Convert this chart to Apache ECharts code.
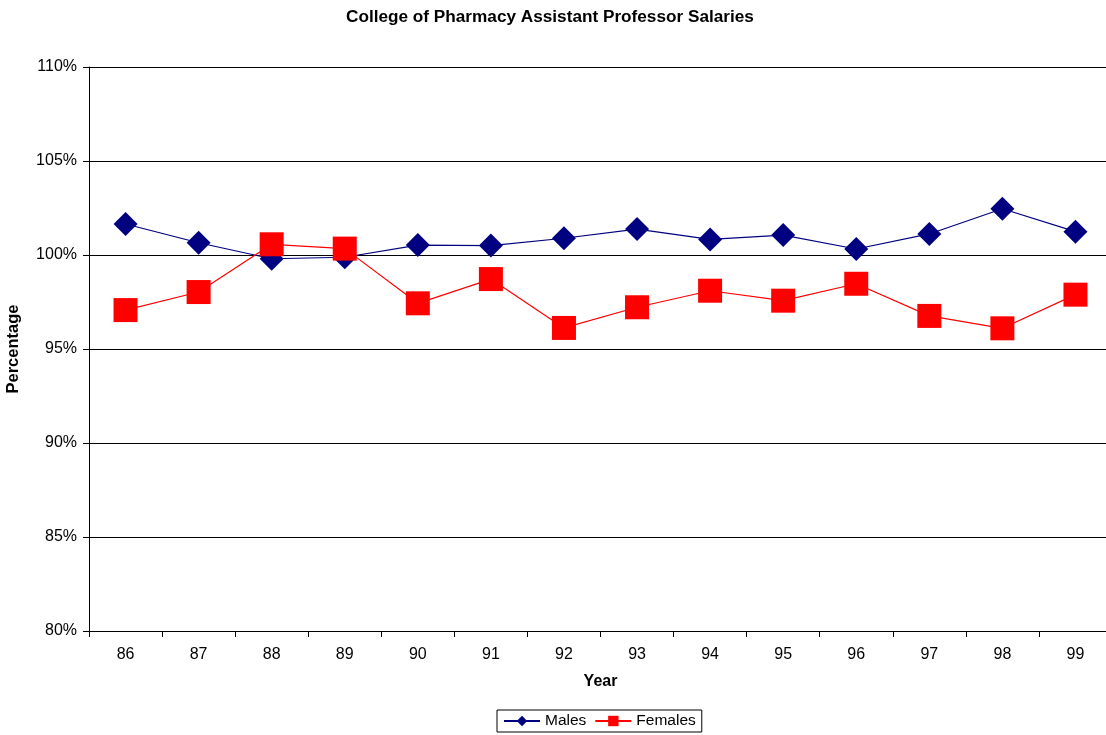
<!DOCTYPE html>
<html>
<head>
<meta charset="utf-8">
<script src="https://cdn.jsdelivr.net/npm/echarts@6/dist/echarts.min.js"></script>
<style>
html,body{margin:0;padding:0;background:#fff;}
#main{width:1106px;height:735px;}
</style>
</head>
<body>
<div id="main"></div>
<script>
var years = ['86','87','88','89','90','91','92','93','94','95','96','97','98','99'];
var males = [101.65,100.65,99.8,99.88,100.53,100.5,100.89,101.38,100.83,101.06,100.32,101.12,102.46,101.24];
var females = [97.07,98.03,100.57,100.34,97.43,98.72,96.12,97.22,98.1,97.57,98.47,96.76,96.1,97.89];
var yTicks = {min:80, max:110, interval:5};

var FONT = '"Liberation Sans", Arial, sans-serif';
var chart = echarts.init(document.getElementById('main'), null, {renderer:'canvas'});
chart.setOption({
  animation:false,
  backgroundColor:'#fff',
  textStyle:{fontFamily:FONT},
  title:{
    text:'College of Pharmacy Assistant Professor Salaries',
    left:341, top:4,
    textStyle:{fontFamily:FONT, fontSize:17.2, fontWeight:'bold', color:'#000'}
  },
  legend:{
    bottom:3, left:497,
    data:['Males','Females'],
    borderColor:'#000', borderWidth:1, borderRadius:0,
    padding:[3,6,3,6],
    itemGap:8, itemWidth:36, itemHeight:13,
    textStyle:{fontFamily:FONT, fontSize:15.5, color:'#000'}
  },
  grid:{left:89, top:67, width:1023, height:564, containLabel:false, outerBoundsMode:'none'},
  xAxis:{
    type:'category', data:years, boundaryGap:true,
    name:'Year', nameLocation:'middle', nameGap:43,
    nameTextStyle:{fontFamily:FONT, fontSize:16, fontWeight:'bold', color:'#000'},
    axisLine:{lineStyle:{color:'#000', width:1}},
    axisTick:{show:true, alignWithLabel:false, length:6, lineStyle:{color:'#000'}},
    axisLabel:{fontFamily:FONT, fontSize:16, color:'#000', margin:16},
    splitLine:{show:false}
  },
  yAxis:{
    type:'value', min:yTicks.min, max:yTicks.max, interval:yTicks.interval,
    name:'Percentage', nameLocation:'middle', nameGap:67, nameRotate:90,
    nameTextStyle:{fontFamily:FONT, fontSize:16.5, fontWeight:'bold', color:'#000'},
    axisLine:{show:true, lineStyle:{color:'#000', width:1}},
    axisTick:{show:true, length:6, lineStyle:{color:'#000'}},
    axisLabel:{fontFamily:FONT, fontSize:16, color:'#000', margin:12, padding:[3,0,0,0], formatter:function(v){return v+'%';}},
    splitLine:{show:true, lineStyle:{color:'#000', width:1}}
  },
  series:[
    {
      name:'Males', type:'line', data:males,
      symbol:'diamond', symbolSize:24,
      itemStyle:{color:'#000080'},
      lineStyle:{color:'#000080', width:1.2},
      z:3
    },
    {
      name:'Females', type:'line', data:females,
      symbol:'rect', symbolSize:24,
      itemStyle:{color:'#FF0000'},
      lineStyle:{color:'#FF0000', width:1.2},
      z:4
    }
  ]
});
</script>
</body>
</html>
